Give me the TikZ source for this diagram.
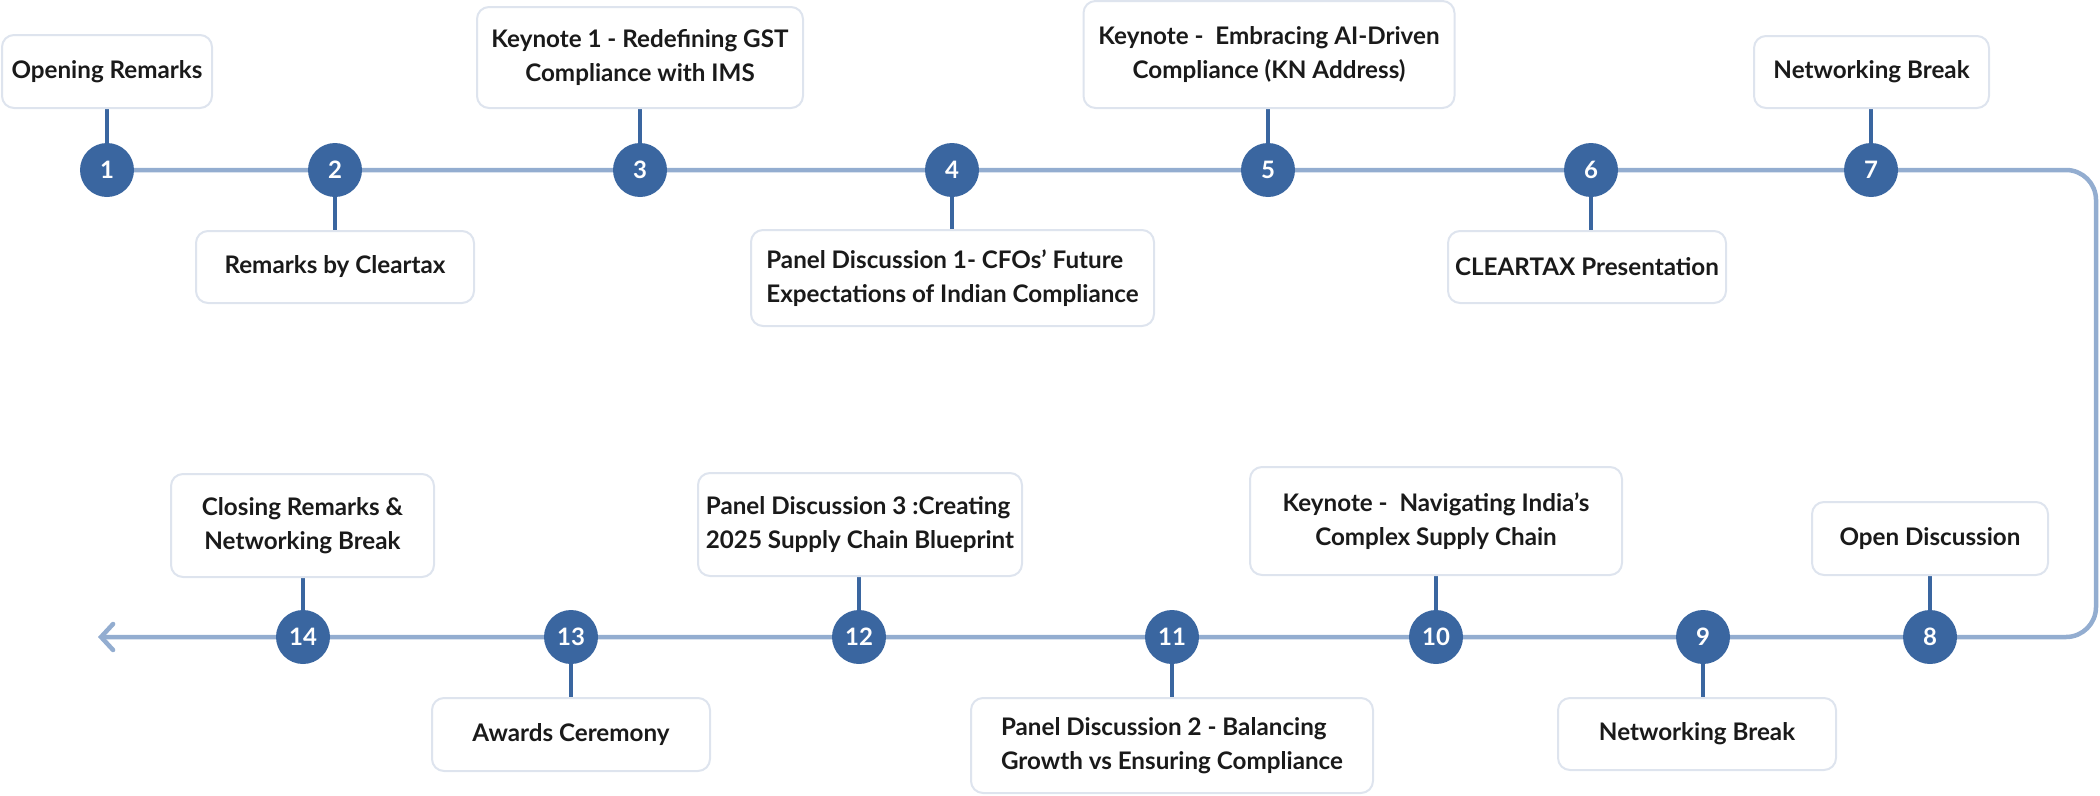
\documentclass[tikz,border=0pt]{standalone}
\usepackage{fontspec}
\setmainfont{Lato}
\usetikzlibrary{arrows.meta,backgrounds}
\definecolor{lineblue}{HTML}{93ADD0}
\definecolor{dotblue}{HTML}{3A66A0}
\definecolor{boxline}{HTML}{DEE4EE}
\definecolor{txt}{HTML}{1A1A1A}
\begin{document}
\begin{tikzpicture}[x=1pt,y=-1pt,
  dot/.style={circle,fill=dotblue,minimum size=54pt,inner sep=0pt,text=white,font=\fontsize{24}{24}\selectfont\bfseries},
  card/.style={draw=boxline,line width=2pt,fill=white,rounded corners=12pt,text=txt,font=\fontsize{24.2}{34}\selectfont\bfseries,inner sep=0pt},
  stem/.style={draw=dotblue,line width=3.5pt},
  track/.style={draw=lineblue,line width=4.5pt}]
\useasboundingbox (0,0) rectangle (2100,795);
% cards
\node[card,minimum width=210pt,minimum height=73pt,align=center] (b1) at (107,71.5) {Opening Remarks};
\node[card,minimum width=278pt,minimum height=72pt,align=center] (b2) at (335,267) {Remarks by Cleartax};
\node[card,minimum width=326pt,minimum height=101pt,align=center] (b3) at (640,57.5) {Keynote 1 - Redefining GST\\Compliance with IMS};
\node[card,minimum width=403pt,minimum height=96pt,align=left] (b4) at (952.5,278) {Panel Discussion 1- CFOs’ Future\\Expectations of Indian Compliance};
\node[card,minimum width=371pt,minimum height=107pt,align=center] (b5) at (1269,54.5) {Keynote -\ \ Embracing AI-Driven\\Compliance (KN Address)};
\node[card,minimum width=278pt,minimum height=72pt,align=center] (b6) at (1587,267) {CLEARTAX Presentation};
\node[card,minimum width=235pt,minimum height=72pt,align=center] (b7) at (1871.5,72) {Networking Break};
\node[card,minimum width=236pt,minimum height=73pt,align=center] (b8) at (1930,538.5) {Open Discussion};
\node[card,minimum width=278pt,minimum height=72pt,align=center] (b9) at (1697,734) {Networking Break};
\node[card,minimum width=372pt,minimum height=108pt,align=center] (b10) at (1436,521) {Keynote -\ \ Navigating India’s\\Complex Supply Chain};
\node[card,minimum width=402pt,minimum height=95pt,align=left] (b11) at (1172,745.5) {Panel Discussion 2 - Balancing\\Growth vs Ensuring Compliance};
\node[card,minimum width=324pt,minimum height=103pt,align=left] (b12) at (860,524.5) {Panel Discussion 3 :Creating\\2025 Supply Chain Blueprint};
\node[card,minimum width=278pt,minimum height=73pt,align=center] (b13) at (571,734.5) {Awards Ceremony};
\node[card,minimum width=263pt,minimum height=103pt,align=center] (b14) at (302.5,525.5) {Closing Remarks \&\\Networking Break};
% dots
\node[dot] (c1) at (107,170) {1};
\node[dot] (c2) at (335,170) {2};
\node[dot] (c3) at (640,170) {3};
\node[dot] (c4) at (952,170) {4};
\node[dot] (c5) at (1268,170) {5};
\node[dot] (c6) at (1591,170) {6};
\node[dot] (c7) at (1871,170) {7};
\node[dot] (c8) at (1930,637) {8};
\node[dot] (c9) at (1703,637) {9};
\node[dot] (c10) at (1436,637) {10};
\node[dot] (c11) at (1172,637) {11};
\node[dot] (c12) at (859,637) {12};
\node[dot] (c13) at (571,637) {13};
\node[dot] (c14) at (303,637) {14};
\coordinate (tr) at (2096,170);
\coordinate (br) at (2096,637);
\coordinate (end) at (98,637);
\begin{scope}[on background layer]
\draw[track,rounded corners=30pt,-{Straight Barb[length=12pt,width=26pt,line cap=round]}] (c1.center) -- (tr) -- (br) -- (end);
\foreach \i in {1,3,5,7,8,10,12,14} \draw[stem] (c\i.center) -- (c\i |- b\i.south);
\foreach \i in {2,4,6,9,11,13} \draw[stem] (c\i.center) -- (c\i |- b\i.north);
\end{scope}
\end{tikzpicture}
\end{document}
